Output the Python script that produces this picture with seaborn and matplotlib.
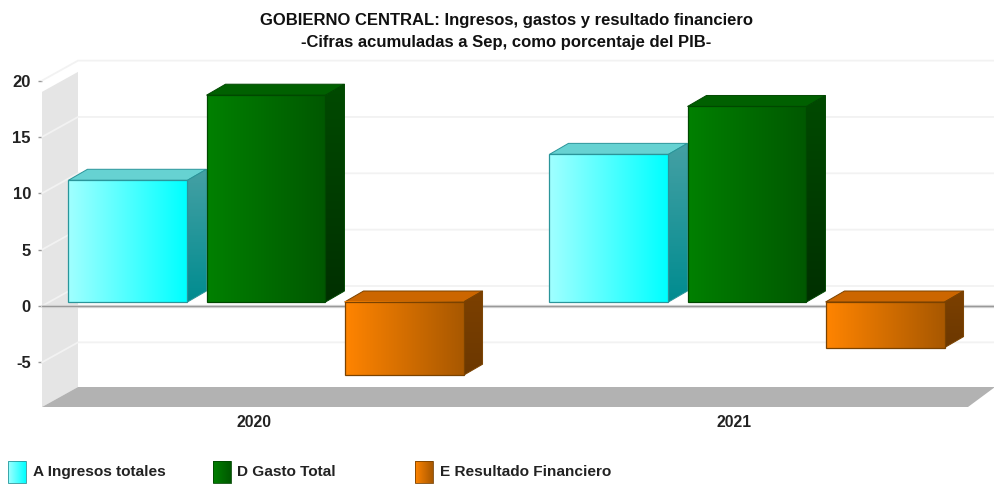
import numpy as np
import pandas as pd
import matplotlib
matplotlib.use("Agg")
import matplotlib.pyplot as plt
from matplotlib.patches import Polygon, Rectangle
import seaborn as sns

years = ["2020", "2021"]
series = ["A Ingresos totales", "D Gasto Total", "E Resultado Financiero"]
ingresos = [10.8, 13.1]
gasto = [18.35, 17.35]
resultado = [-6.5, -4.05]
yticks = [-5, 0, 5, 10, 15, 20]
title = ("GOBIERNO CENTRAL: Ingresos, gastos y resultado financiero\n"
         "-Cifras acumuladas a Sep, como porcentaje del PIB-")

styles = {
    series[0]: dict(front=("#a0ffff", "#00ffff"), side=("#45a0a4", "#008c90"), top="#66d2d2", edge="#2a959a"),
    series[1]: dict(front=("#008000", "#005800"), side=("#004a00", "#003000"), top="#006000", edge="#004800"),
    series[2]: dict(front=("#ff8400", "#a85800"), side=("#7c4000", "#6c3800"), top="#cc6600", edge="#7a4200"),
}

sns.set_theme(style="white")
plt.rcParams["font.family"] = ["Liberation Sans", "DejaVu Sans"]
plt.rcParams["font.weight"] = "bold"

W, H = 994, 484
fig = plt.figure(figsize=(W / 100, H / 100), dpi=100, facecolor="white")

# pixel geometry of the pseudo-3D frame
L, R, B, T = 42, 968, 407, 80
px_per_unit = 11.27
zero_frame = 306
zero_bars = 302
rect = [L / W, 1 - B / H, (R - L) / W, (B - T) / H]


def ylim_for(zero):
    return (zero - B) / px_per_unit, (zero - T) / px_per_unit


def rgb(c):
    return np.array(matplotlib.colors.to_rgb(c))


def gradient(c0, c1, horizontal=True, n=64):
    t = np.linspace(0, 1, n)[:, None]
    g = rgb(c0) * (1 - t) + rgb(c1) * t
    return g[None, :, :] if horizontal else g[:, None, :]


# ---------- frame axes: walls, grid, ticks ----------
ax = fig.add_axes(rect, facecolor="none")
ax.set_xlim((L - 254) / 480, (R - 254) / 480)
ylim = ylim_for(zero_frame)
ax.set_ylim(*ylim)
x0, x1 = ax.get_xlim()
ddx, ddy = 36 / 480, 20 / px_per_unit
far = x1 + 0.2
floor_end = x1 + 27 / 480

ax.add_patch(Polygon([(x0, ylim[0]), (x0, 19.0), (x0 + ddx, 19.0 + ddy), (x0 + ddx, ylim[0] + ddy)],
                     closed=True, fc="#e5e5e5", ec="none", zorder=1, clip_on=False))
ax.add_patch(Polygon([(x0, ylim[0]), (x0 + ddx, ylim[0] + ddy), (floor_end, ylim[0] + ddy), (x1, ylim[0])],
                     closed=True, fc="#b2b2b2", ec="none", zorder=1, clip_on=False))
for v in yticks:
    ax.plot([x0, x0 + ddx, far], [v, v + ddy, v + ddy], color="#f2f2f2", lw=1.3, zorder=2,
            clip_on=False, solid_joinstyle="miter")
ax.plot([x0, far], [0, 0], color="#dddddd", lw=2.4, zorder=2.5, clip_on=False)
ax.plot([x0, far], [0, 0], color="#999999", lw=1.0, zorder=2.6, clip_on=False)

ax.set_yticks(yticks)
ax.set_yticklabels([str(v) for v in yticks], fontsize=12, fontweight="bold", color="#222222")
ax.set_xticks([0, 1])
ax.set_xticklabels(years, fontsize=11.4, fontweight="bold", color="#222222")
ax.tick_params(axis="y", length=3, width=1, color="#999999", pad=5, left=True)
ax.tick_params(axis="x", length=0, pad=6)
for s in ax.spines.values():
    s.set_visible(False)
ax.grid(False)

# ---------- bar axes ----------
bx = fig.add_axes(rect, facecolor="none")
df = pd.DataFrame({
    "year": years * 3,
    "serie": [series[0]] * 2 + [series[1]] * 2 + [series[2]] * 2,
    "valor": ingresos + gasto + resultado,
})
sns.barplot(data=df, x="year", y="valor", hue="serie", hue_order=series, order=years,
            width=0.861, gap=0.138, legend=False, ax=bx, dodge=True, errorbar=None)
bx.axis("off")

dx, dy = 19 / 481, 11 / px_per_unit
bars_xlim = ((L - 266) / 481, (R - 266) / 481)
n = len(years)
z = 5
for i, p in enumerate(bx.patches[:n * len(series)]):
    st = styles[series[i // n]]
    xa, xb = p.get_x(), p.get_x() + p.get_width()
    ya, yb = sorted((p.get_y(), p.get_y() + p.get_height()))
    p.set_visible(False)
    # top face
    bx.add_patch(Polygon([(xa, yb), (xa + dx, yb + dy), (xb + dx, yb + dy), (xb, yb)], closed=True,
                         fc=st["top"], ec=st["edge"], lw=0.7, zorder=z, clip_on=False))
    # side face
    side = Polygon([(xb, ya), (xb + dx, ya + dy), (xb + dx, yb + dy), (xb, yb)], closed=True,
                   fc="none", ec=st["edge"], lw=0.7, zorder=z + 0.2, clip_on=False)
    bx.add_patch(side)
    im = bx.imshow(gradient(st["side"][0], st["side"][1], horizontal=False),
                   extent=[xb, xb + dx, ya, yb + dy], origin="upper", aspect="auto",
                   zorder=z + 0.1, interpolation="bilinear")
    im.set_clip_path(side)
    # front face
    bx.imshow(gradient(*st["front"]), extent=[xa, xb, ya, yb], aspect="auto",
              zorder=z + 0.3, interpolation="bilinear")
    bx.add_patch(Rectangle((xa, ya), xb - xa, yb - ya, fc="none", ec=st["edge"], lw=0.9, zorder=z + 0.4))
    z += 1
bx.set_xlim(*bars_xlim)
bx.set_ylim(*ylim_for(zero_bars))

# ---------- title and legend ----------
fig.text(506 / W, 1 - 31.5 / H, title, ha="center", va="center", fontsize=12, fontweight="bold",
         color="#111111", linespacing=1.5)

lg = fig.add_axes([0, 0, 1, 1], facecolor="none")
lg.axis("off")
swatch_x = [8, 213, 415]
text_x = [33, 237, 440]
for name, sx, tx in zip(series, swatch_x, text_x):
    st = styles[name]
    lg.imshow(gradient(*st["front"]), extent=[sx, sx + 18, 483, 461], aspect="auto", interpolation="bilinear")
    lg.add_patch(Rectangle((sx, 461), 18, 22, fc="none", ec=st["edge"], lw=0.6))
    lg.text(tx, 472, name, ha="left", va="center", fontsize=11.05, fontweight="bold", color="#222222")
lg.set_xlim(0, W)
lg.set_ylim(H, 0)

fig.savefig("out.png", dpi=100, facecolor="white")
